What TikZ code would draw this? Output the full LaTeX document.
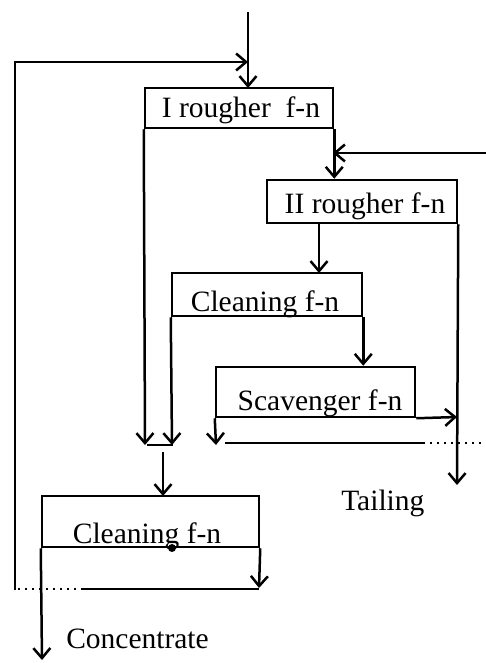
\documentclass[tikz,border=0pt]{standalone}
\usepackage{fontspec}
\setmainfont{Liberation Serif}
\usetikzlibrary{arrows.meta}
\begin{document}
\begin{tikzpicture}[x=1pt,y=-1pt,
  line width=2.5pt,
  >={Straight Barb[length=10pt,width=17pt]},
  box/.style={draw,rectangle,inner sep=0pt,line width=2.5pt},
  lbl/.style={inner sep=0pt,anchor=base,font=\fontsize{29.5}{32}\selectfont},
  dotline/.style={line width=1.2pt,dash pattern=on 2pt off 5pt}]
\useasboundingbox (0,0) rectangle (486,663);
% boxes
\node[box,minimum width=188pt,minimum height=40pt] (b1) at (239,108) {};
\node[box,minimum width=190pt,minimum height=43pt] (b2) at (362,201.5) {};
\node[box,minimum width=190pt,minimum height=43pt] (b3) at (267,294.5) {};
\node[box,minimum width=199pt,minimum height=50pt] (b4) at (315.5,392) {};
\node[box,minimum width=217pt,minimum height=51pt] (b5) at (150.5,521.5) {};
% texts
\node[lbl] (t1) at (241,118) {I rougher\ \ f-n};
\node[lbl] (t2) at (365,213) {II rougher f-n};
\node[lbl] (t3) at (265,311) {Cleaning f-n};
\node[lbl] (t4) at (320,410) {Scavenger f-n};
\node[lbl] (t5) at (147,543) {Cleaning f-n};
\node[lbl,anchor=base west] (tail) at (340,510) {Tailing};
\node[lbl,anchor=base west] (conc) at (65,648) {Concentrate};
% coordinates
\coordinate (feedtop) at (248,12);
\coordinate (feedin) at (248,88);
\coordinate (rec1) at (248,62);
\coordinate (rec2) at (15,62);
\coordinate (rec3) at (15,590);
\coordinate (rec4) at (15,589);
\coordinate (rec5) at (83,589);
\coordinate (rec6) at (259,589);
\coordinate (rightfeed) at (486,153);
\coordinate (rightin) at (333,153);
\coordinate (b1L) at (145,445);
\coordinate (b3L) at (172,445);
\coordinate (b4L) at (216,445);
\coordinate (m1) at (147,445);
\coordinate (m2) at (173,445);
\coordinate (mtop) at (163,452);
\coordinate (mbot) at (163,496);
\coordinate (b2out) at (319,223);
\coordinate (b3in) at (319,273);
\coordinate (tailend) at (457,485);
\coordinate (scavR) at (457,417);
\coordinate (l1) at (225,443);
\coordinate (l2) at (423,443);
\coordinate (l3) at (486,443);
\coordinate (concend) at (42,660);
\coordinate (b5R) at (259,588);
\coordinate (dot) at (172,548);
% feed
\draw[->] (feedtop) -- (feedin);
% recycle
\draw (rec6) -- (rec5);
\draw[dotline] (rec5) -- (rec4);
\draw[->] (rec3) -- (rec2) -- (rec1);
% I rougher outputs
\draw[->] (b1.south west) -- (b1L);
\draw[->] (b1.south east) -- (b1.south east |- b2.north);
\draw[->] (rightfeed) -- (rightin);
% II rougher outputs
\draw[->] (b2out) -- (b3in);
\draw[->] (b2.south east) -- (tailend);
% Cleaning outputs
\draw[->] (b3.south west) -- (b3L);
\draw[->] (b3.south east) -- (b3.south east |- b4.north);
% Scavenger outputs
\draw[->] (b4.south west) -- (b4L);
\draw[->] (b4.south east) -- (scavR);
% line at 443
\draw (l1) -- (l2);
\draw[dotline] (l2) -- (l3);
% merge
\draw (m1) -- (m2);
\draw[->] (mtop) -- (mbot);
% Cleaning 2 outputs
\draw[->] (b5.south west) -- (concend);
\draw[->] (b5.south east) -- (b5R);
\fill (dot) circle (4pt);
\end{tikzpicture}
\end{document}
